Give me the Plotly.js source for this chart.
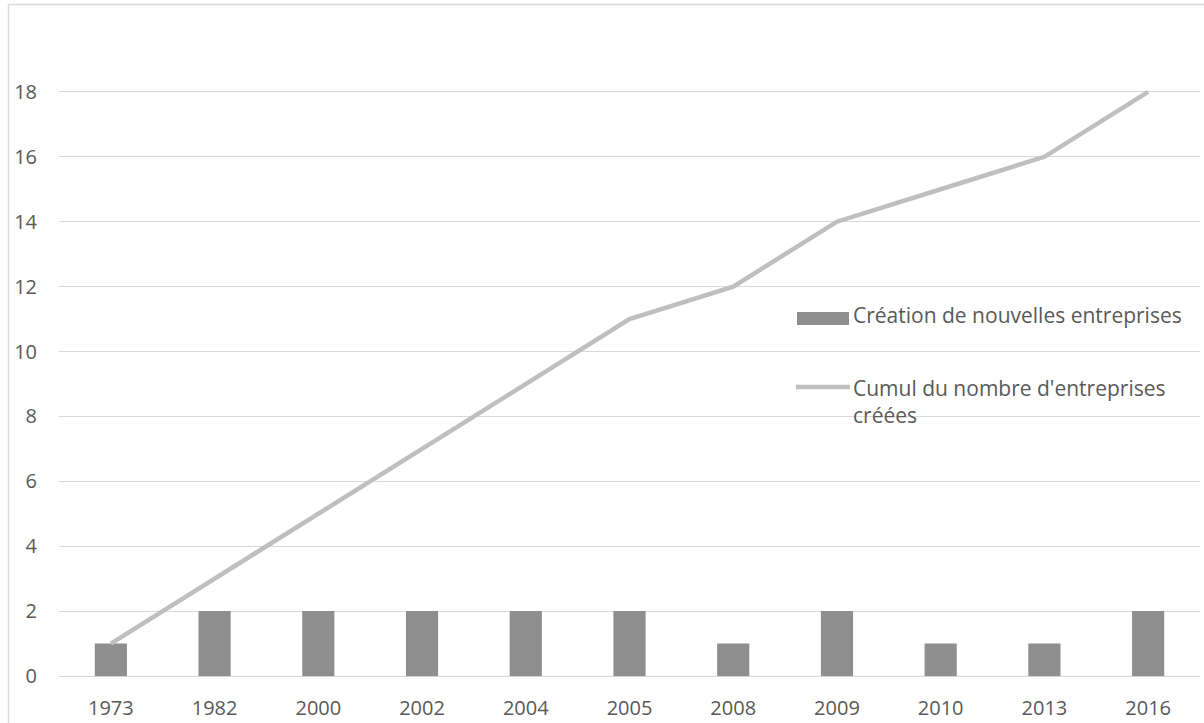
<!DOCTYPE html>
<html>
<head>
<meta charset="utf-8">
<script src="https://cdn.plot.ly/plotly-3.0.1.min.js"></script>
<style>
  html, body { margin: 0; padding: 0; background: #ffffff; overflow: hidden; }
  #chart { width: 1204px; height: 723px; }
</style>
</head>
<body>
<div id="chart"></div>
<script>
// ---- Data ----
const years = ["1973", "1982", "2000", "2002", "2004", "2005", "2008", "2009", "2010", "2013", "2016"];
const newCompanies = [1, 2, 2, 2, 2, 2, 1, 2, 1, 1, 2];
const cumulativeCompanies = [1, 3, 5, 7, 9, 11, 12, 14, 15, 16, 18];
const seriesNames = ["Création de nouvelles entreprises", "Cumul du nombre d'entreprises créées"];
const yTickValues = [0, 2, 4, 6, 8, 10, 12, 14, 16, 18];

// ---- Styles ----
const textColor = "#595959";
const gridColor = "#d9d9d9";
const barColor = "#8e8e8e";
const lineColor = "#bfbfbf";
const fontFamily = "'Open Sans', 'Noto Sans', sans-serif";

const traces = [
  {
    type: "bar",
    name: seriesNames[0],
    x: years,
    y: newCompanies,
    marker: { color: barColor, line: { width: 0 } },
    showlegend: false
  },
  {
    type: "scatter",
    mode: "lines",
    name: seriesNames[1],
    x: years,
    y: cumulativeCompanies,
    line: { color: lineColor, width: 4.5 },
    showlegend: false
  }
];

// plot area in pixels: left 59, right 1200, top 27, bottom 676
const plotL = 59, plotR = 1200, plotT = 27, plotB = 676;
const pw = plotR - plotL, ph = plotB - plotT;
const px = v => (v - plotL) / pw;
const py = v => (plotB - v) / ph;

const layout = {
  width: 1204,
  height: 723,
  margin: { l: plotL, r: 1204 - plotR, t: plotT, b: 723 - plotB, pad: 0 },
  paper_bgcolor: "#ffffff",
  plot_bgcolor: "#ffffff",
  font: { family: fontFamily, size: 20, color: textColor },
  bargap: 0.69,
  showlegend: false,
  xaxis: {
    type: "category",
    range: [-0.5, years.length - 0.5],
    showgrid: false,
    showline: true,
    linecolor: gridColor,
    linewidth: 1,
    ticks: "",
    tickfont: { family: fontFamily, size: 20, color: textColor },
    ticklabelstandoff: 14,
    fixedrange: true
  },
  yaxis: {
    range: [0, 20],
    tickmode: "array",
    tickvals: yTickValues,
    ticktext: yTickValues.map(String),
    showgrid: true,
    gridcolor: gridColor,
    gridwidth: 1,
    zeroline: false,
    showline: false,
    ticks: "",
    tickfont: { family: fontFamily, size: 20, color: textColor },
    ticklabelstandoff: 21,
    fixedrange: true
  },
  shapes: [
    // chart outer border (right/bottom edges fall outside the picture)
    {
      type: "rect", xref: "paper", yref: "paper",
      x0: px(8.5), x1: px(1300), y0: py(4.5), y1: py(800),
      line: { color: gridColor, width: 1.5 }, fillcolor: "rgba(0,0,0,0)", layer: "above"
    },
    // legend symbols
    {
      type: "rect", xref: "paper", yref: "paper",
      x0: px(797), x1: px(849), y0: py(325), y1: py(312),
      line: { width: 0 }, fillcolor: barColor
    },
    {
      type: "line", xref: "paper", yref: "paper",
      x0: px(796), x1: px(850), y0: py(387), y1: py(387),
      line: { color: lineColor, width: 4.5 }
    }
  ],
  annotations: [
    {
      xref: "paper", yref: "paper", x: px(851), y: py(315),
      xanchor: "left", yanchor: "middle", align: "left", showarrow: false,
      text: seriesNames[0], font: { family: fontFamily, size: 21, color: textColor }
    },
    {
      xref: "paper", yref: "paper", x: px(851), y: py(401),
      xanchor: "left", yanchor: "middle", align: "left", showarrow: false,
      text: "Cumul du nombre d'entreprises<br>créées",
      font: { family: fontFamily, size: 21, color: textColor }
    }
  ]
};

Plotly.newPlot("chart", traces, layout, { staticPlot: true, displayModeBar: false });
</script>
</body>
</html>
